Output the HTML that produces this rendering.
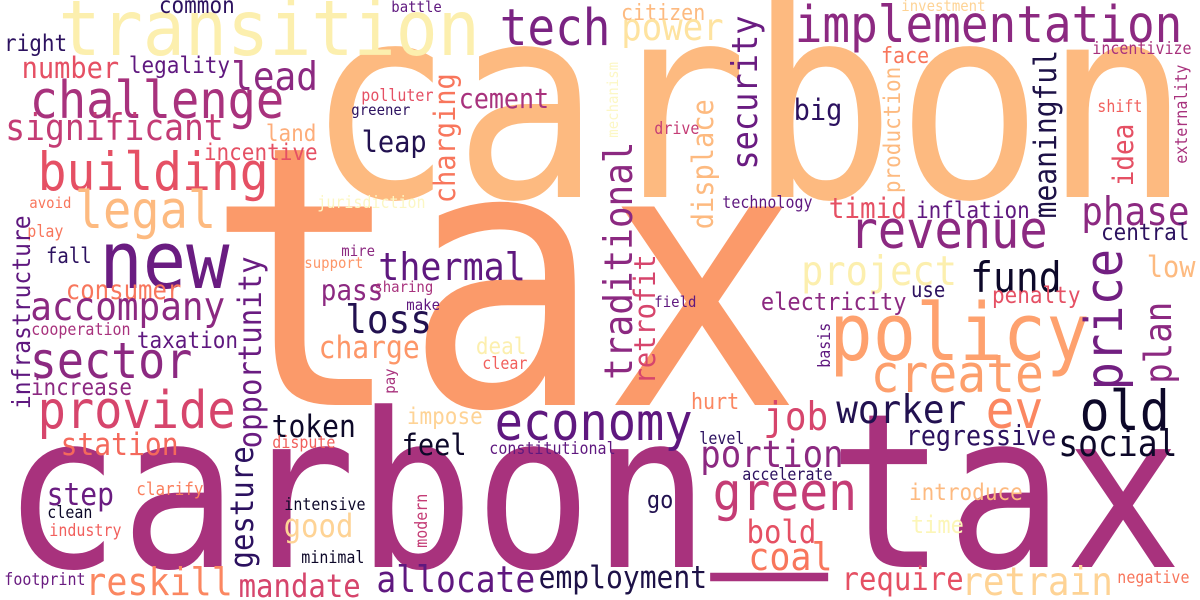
<!DOCTYPE html>
<html>
<head>
<meta charset="utf-8">
<style>
  html,body{margin:0;padding:0;background:#fff;}
  svg{display:block;}
  text{font-family:"DejaVu Sans Mono","Liberation Mono",monospace;}
</style>
</head>
<body>
<svg id="cloud" width="1200" height="600" viewBox="0 0 1200 600" xmlns="http://www.w3.org/2000/svg">
  <rect x="0" y="0" width="1200" height="600" fill="#ffffff"/>
</svg>
<script>
const Y='#fcefae', Y2='#fcf7c4', PE='#fdba80', OR='#fb9a6a', LP='#fed395', CO='#f8765c',
      RE='#e55064', PK='#c43c75', MG='#a8327d', PU='#8c2981', DP='#6a1c81', VP='#5f187f',
      NV='#2c115f', BK='#0d0829';
const SY = 1.1;

// horizontal words: text, glyph-left x, baseline y, font size, colour
const hWords = [
 ['carbon',318,197,245,PE],
 ['tax',222,405,330,OR],
 ['carbon_tax',12,567,196,MG],
 ['transition',62,55,70,Y],
 ['common',160,13,21,NV],
 ['right',5,51,21,NV],
 ['number',23,78,27,RE],
 ['legality',130,73,21,VP],
 ['lead',233,90,36,PU],
 ['challenge',32,118,47,MG],
 ['significant',7,140,33,PK],
 ['land',267,141,21,'#fdad7a'],
 ['incentive',205,160,21,RE],
 ['building',40,190,48,RE],
 ['legal',77,228,47,PE],
 ['avoid',30,208,14,CO],
 ['jurisdiction',318,208,15,Y2],
 ['play',28,237,15,CO],
 ['fall',47,263,19,NV],
 ['new',103,288,72,DP],
 ['consumer',67,299,24,CO],
 ['mire',342,256,14,PU],
 ['support',305,268,14,'#fd9668'],
 ['pass',322,300,26,PU],
 ['polluter',362,101,15,RE],
 ['greener',352,115,14,NV],
 ['leap',363,152,27,'#221150'],
 ['thermal',380,280,35,VP],
 ['sharing',375,292,14,MG],
 ['battle',392,12,14,VP],
 ['tech',502,45,46,'#7a2382'],
 ['citizen',622,20,20,PE],
 ['power',623,40,34,'#fee3a0'],
 ['cement',460,108,25,MG],
 ['drive',655,134,15,PK],
 ['technology',723,208,15,VP],
 ['field',655,307,14,VP],
 ['big',795,120,27,NV],
 ['implementation',797,42,46,PU],
 ['investment',902,11,14,LP],
 ['face',882,63,20,CO],
 ['incentivize',1093,54,15,MG],
 ['shift',1098,112,15,'#f1605d'],
 ['timid',830,218,26,RE],
 ['inflation',917,218,21,VP],
 ['phase',1083,225,36,PU],
 ['revenue',852,248,47,PU],
 ['central',1102,240,21,NV],
 ['project',803,285,37,Y],
 ['fund',972,292,38,BK],
 ['use',912,297,19,NV],
 ['low',1148,277,27,PE],
 ['policy',833,360,72,'#fea16e'],
 ['create',873,392,48,'#fd9f6c'],
 ['worker',838,423,36,'#221150'],
 ['ev',988,428,48,'#fb8761'],
 ['old',1082,430,50,BK],
 ['regressive',907,445,25,NV],
 ['social',1060,456,33,BK],
 ['introduce',910,500,21,PE],
 ['time',912,533,22,'#fcf6b8'],
 ['require',843,590,29,RE],
 ['retrain',963,595,36,LP],
 ['negative',1118,583,15,CO],
 ['penalty',993,303,21,RE],
 ['electricity',762,310,22,PU],
 ['make',407,310,14,VP],
 ['deal',477,354,21,Y],
 ['clear',483,369,15,'#f1605d'],
 ['hurt',692,409,20,'#fb8761'],
 ['impose',408,424,21,LP],
 ['economy',497,440,47,VP],
 ['feel',403,455,27,BK],
 ['constitutional',490,454,15,VP],
 ['level',700,444,15,NV],
 ['job',765,430,36,'#d6456c'],
 ['portion',702,467,34,PU],
 ['accelerate',743,480,15,NV],
 ['green',715,510,48,PK],
 ['bold',748,543,29,RE],
 ['coal',750,570,35,CO],
 ['go',648,508,22,'#221150'],
 ['allocate',378,592,33,VP],
 ['employment',540,588,28,'#1d1147'],
 ['accompany',32,320,36,PU],
 ['loss',347,333,36,'#221150'],
 ['cooperation',32,335,15,MG],
 ['taxation',138,348,21,VP],
 ['charge',320,358,28,'#fd9668'],
 ['sector',32,378,45,PU],
 ['increase',32,395,21,PU],
 ['provide',40,428,47,'#d6456c'],
 ['token',273,437,28,BK],
 ['dispute',273,448,15,'#f1605d'],
 ['station',62,455,28,'#f4695c'],
 ['step',48,505,28,DP],
 ['clarify',137,495,16,'#fa7f5e'],
 ['clean',48,518,15,BK],
 ['intensive',285,510,15,BK],
 ['good',285,537,29,LP],
 ['industry',50,536,15,'#f1605d'],
 ['minimal',302,563,15,BK],
 ['footprint',5,585,15,DP],
 ['reskill',87,595,35,'#fb8761'],
 ['mandate',240,597,29,'#d6456c']
];

// vertical words (rotated -90): text, baseline x, bottom y, font size, colour
const vWords = [
 ['infrastructure',30,408,23,VP],
 ['charging',455,202,27,CO],
 ['mechanism',618,137,14,Y2],
 ['traditional',632,378,36,PU],
 ['retrofit',655,383,27,'#d6456c'],
 ['displace',713,228,27,PE],
 ['security',757,168,32,DP],
 ['production',900,192,21,PE],
 ['meaningful',1056,217,28,'#1d1147'],
 ['externality',1187,163,15,MG],
 ['idea',1133,185,26,RE],
 ['price',1122,388,47,'#721f81'],
 ['plan',1171,382,34,PU],
 ['basis',830,367,15,VP],
 ['opportunity',261,447,29,DP],
 ['pay',395,393,14,MG],
 ['gesture',253,567,29,NV],
 ['modern',427,547,15,PK]
];

const svg = document.getElementById('cloud');
const NS = 'http://www.w3.org/2000/svg';

function fillText(t, word, fs) {
  const i = word.indexOf('_');
  if (i < 0) { t.textContent = word; return; }
  const a = document.createElementNS(NS, 'tspan');
  a.textContent = word.slice(0, i);
  const u = document.createElementNS(NS, 'tspan');
  u.setAttribute('dy', (-0.17 * fs).toFixed(1));
  u.textContent = '_';
  const b = document.createElementNS(NS, 'tspan');
  b.setAttribute('dy', (0.17 * fs).toFixed(1));
  b.textContent = word.slice(i + 1);
  t.appendChild(a); t.appendChild(u); t.appendChild(b);
}

hWords.forEach(w => {
  const t = document.createElementNS(NS, 'text');
  
  
  t.setAttribute('x', 0);
  t.setAttribute('y', 0);
  t.setAttribute('font-size', w[3]);
  t.setAttribute('fill', w[4]);
  t.setAttribute('transform', 'translate(' + (w[1] - 0.05 * w[3]).toFixed(1) + ',' + w[2] + ') scale(1,' + SY + ')');
  fillText(t, w[0], w[3]);
  svg.appendChild(t);
});

vWords.forEach(w => {
  const t = document.createElementNS(NS, 'text');
  
  
  t.setAttribute('x', 0);
  t.setAttribute('y', 0);
  t.setAttribute('font-size', w[3]);
  t.setAttribute('fill', w[4]);
  t.setAttribute('transform', 'translate(' + w[1] + ',' + (w[2] + 0.05 * w[3]).toFixed(1) + ') rotate(-90) scale(1,' + SY + ')');
  t.textContent = w[0];
  svg.appendChild(t);
});
</script>
</body>
</html>
